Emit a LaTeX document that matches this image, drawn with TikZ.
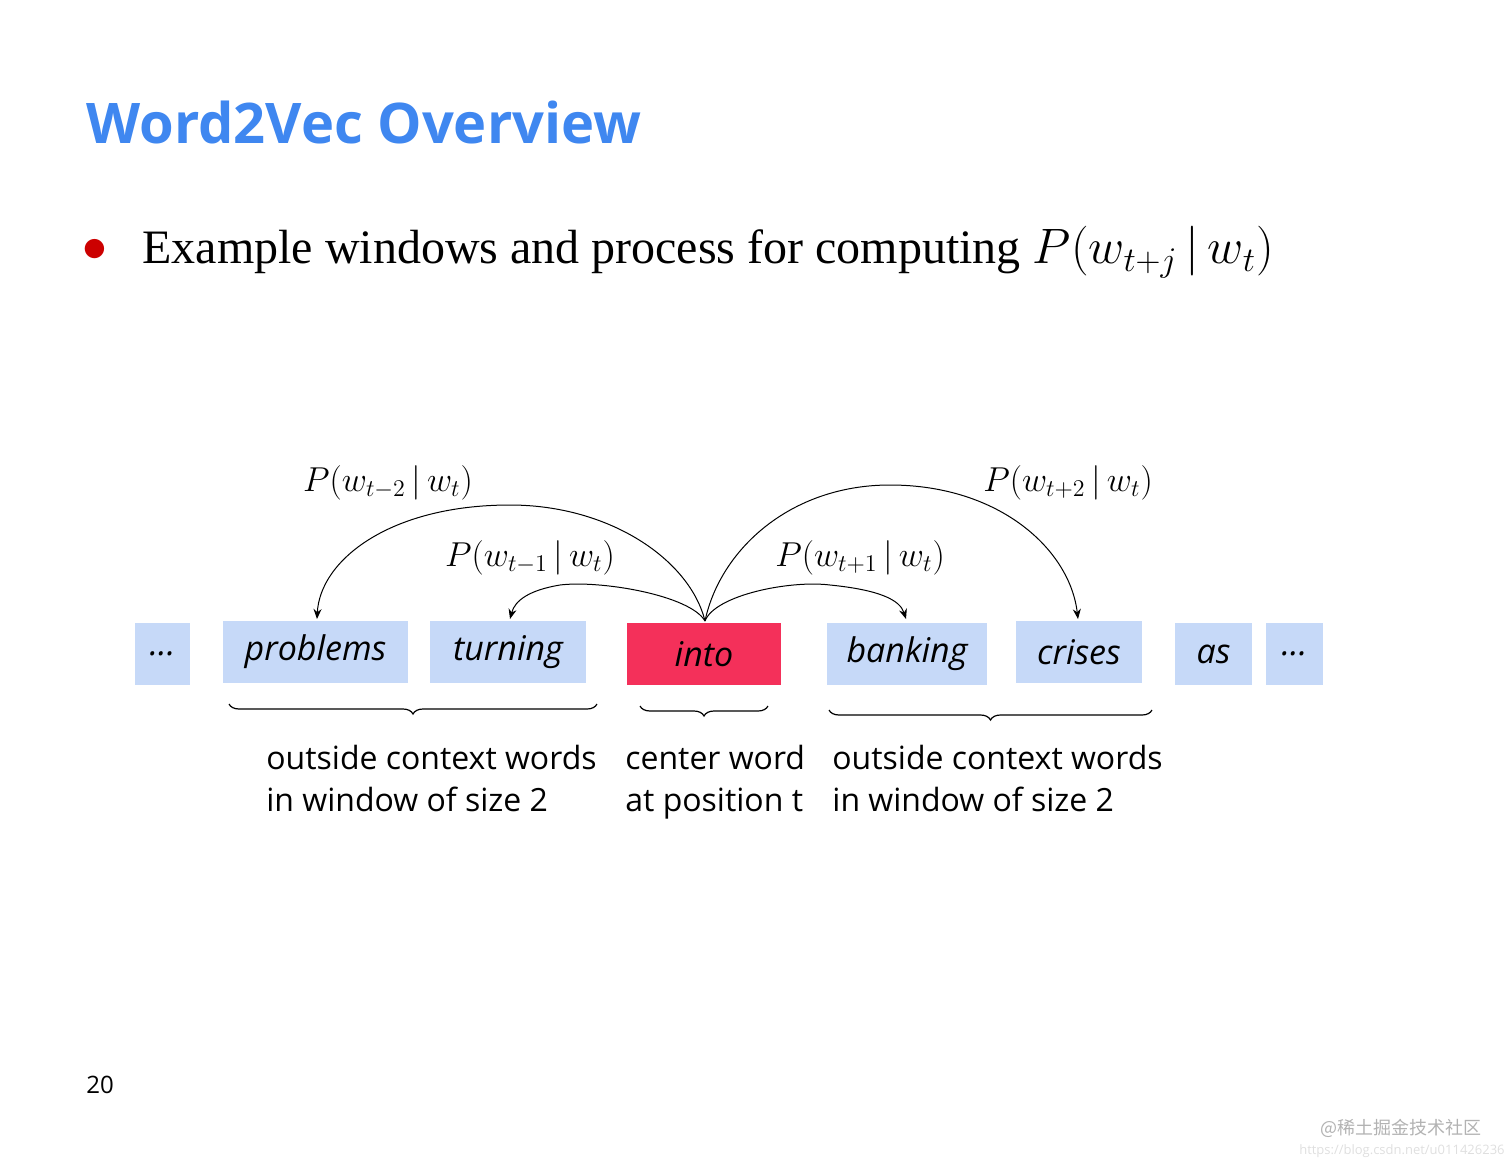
\documentclass[tikz,border=0pt]{standalone}
\usepackage{fontspec}
\setmainfont{Liberation Serif}
\newfontfamily\osans{Open Sans}
\newfontfamily\cjk{Noto Sans CJK SC}
\usetikzlibrary{arrows.meta,decorations.pathreplacing}
\definecolor{wbox}{HTML}{C6D9F8}
\definecolor{cbox}{HTML}{F4305A}
\definecolor{ttl}{HTML}{3F87F0}
\begin{document}
\begin{tikzpicture}[x=0.5pt,y=-0.5pt,
  w/.style={fill=wbox,inner sep=0pt,font=\osans\itshape\fontsize{17}{17}\selectfont},
  arc/.style={-{Stealth[length=5pt,width=4pt]},line width=0.5pt},
  br/.style={decorate,decoration={brace,mirror,amplitude=5pt},line width=0.6pt},
  lab/.style={font=\osans\fontsize{16}{21}\selectfont,align=left,anchor=north west,inner sep=0pt},
  pl/.style={font=\fontsize{18}{18}\selectfont,inner sep=0pt}]
\useasboundingbox (0,0) rectangle (1512,1168);
\node[anchor=west,text=ttl,font=\osans\bfseries\fontsize{28}{28}\selectfont,inner sep=0pt] (title) at (86,122) {Word2Vec Overview};
\node[text=red!80!black,font=\fontsize{26}{26}\selectfont,inner sep=0pt] (bul) at (95,250) {$\bullet$};
\node[anchor=west,font=\fontsize{24}{24}\selectfont,inner sep=0pt] (ex) at (142,252) {Example windows and process for computing {\fontsize{27}{27}\selectfont$P\bigl(w_{t+j}\,|\,w_t\bigr)$}};
% boxes
\node[w,minimum width=27.5pt,minimum height=31pt] (d1) at (162.5,654) {...};
\node[w,minimum width=92.5pt,minimum height=31pt] (b1) at (315.5,652) {problems};
\node[w,minimum width=78pt,minimum height=31pt] (b2) at (508,652) {turning};
\node[fill=cbox,inner sep=0pt,font=\osans\itshape\fontsize{17}{17}\selectfont,minimum width=77pt,minimum height=31pt] (c) at (704,654) {into};
\node[w,minimum width=80pt,minimum height=31pt] (b3) at (907,654) {banking};
\node[w,minimum width=63pt,minimum height=31pt] (b4) at (1079,652) {crises};
\node[w,minimum width=38.5pt,minimum height=31pt] (as) at (1213.5,654) {as};
\node[w,minimum width=28.5pt,minimum height=31pt] (d2) at (1294.5,654) {...};
% arcs
\coordinate (ct) at (705,621);
\draw[arc] (ct) .. controls (690,560) and (610,505) .. (510,505) .. controls (390,505) and (320,560) .. (317,619);
\draw[arc] (ct) .. controls (690,595) and (600,580) .. (560,585) .. controls (530,590) and (515,600) .. (510,619);
\draw[arc] (ct) .. controls (715,595) and (790,580) .. (830,585) .. controls (880,590) and (900,600) .. (906,619);
\draw[arc] (ct) .. controls (720,550) and (790,485) .. (890,485) .. controls (1000,485) and (1070,550) .. (1078,619);
\node[pl] (l1) at (388,483) {$P(w_{t-2}\,|\,w_t)$};
\node[pl] (l2) at (530,558) {$P(w_{t-1}\,|\,w_t)$};
\node[pl] (l3) at (860,558) {$P(w_{t+1}\,|\,w_t)$};
\node[pl] (l4) at (1068,483) {$P(w_{t+2}\,|\,w_t)$};
% braces
\coordinate (a1) at (229,704); \coordinate (a2) at (597,704);
\coordinate (a3) at (640,706); \coordinate (a4) at (768,706);
\coordinate (a5) at (829,710); \coordinate (a6) at (1152,710);
\draw[br] (a1) -- (a2);
\draw[br] (a3) -- (a4);
\draw[br] (a5) -- (a6);
\node[lab] (t1) at (266,745) {outside context words\\in window of size 2};
\node[lab] (t2) at (625,745) {center word\\at position t};
\node[lab] (t3) at (832,745) {outside context words\\in window of size 2};
\node[font=\osans\fontsize{12}{12}\selectfont,inner sep=0pt] (pg) at (100,1085) {20};
\node[text=gray!60,font=\cjk\fontsize{9}{9}\selectfont,inner sep=0pt,anchor=east] (wm) at (1482,1128) {@稀土掘金技术社区};
\node[text=gray!25,font=\osans\fontsize{6.5}{7}\selectfont,inner sep=0pt,anchor=east] (url) at (1505,1151) {https://blog.csdn.net/u011426236};
\end{tikzpicture}
\end{document}
